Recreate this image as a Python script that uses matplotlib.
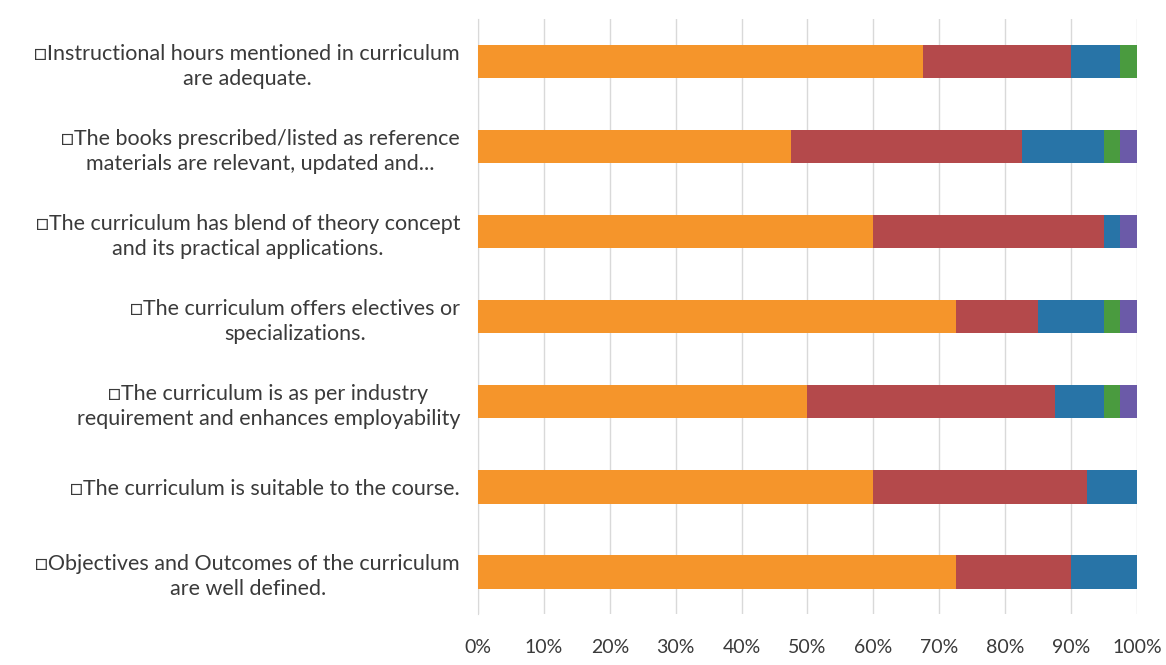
import numpy as np
import matplotlib
matplotlib.use("Agg")
import matplotlib.pyplot as plt

# -------------------------------
# Curriculum feedback, share of responses per statement (top to bottom)
# -------------------------------

statements = [
    "\u25a1Instructional hours mentioned in curriculum\nare adequate.",
    "\u25a1The books prescribed/listed as reference\nmaterials are relevant, updated and...",
    "\u25a1The curriculum has blend of theory concept\nand its practical applications.",
    "\u25a1The curriculum offers electives or\nspecializations.",
    "\u25a1The curriculum is as per industry\nrequirement and enhances employability",
    "\u25a1The curriculum is suitable to the course.",
    "\u25a1Objectives and Outcomes of the curriculum\nare well defined.",
]

strongly_agree    = [67.5, 47.5, 60.0, 72.5, 50.0, 60.0, 72.5]
agree             = [22.5, 35.0, 35.0, 12.5, 37.5, 32.5, 17.5]
neutral           = [7.5, 12.5, 2.5, 10.0, 7.5, 7.5, 10.0]
disagree          = [2.5, 2.5, 0.0, 2.5, 2.5, 0.0, 0.0]
strongly_disagree = [0.0, 2.5, 2.5, 2.5, 2.5, 0.0, 0.0]

series = [strongly_agree, agree, neutral, disagree, strongly_disagree]
colors = ["#F5952B", "#B4494B", "#2874A7", "#4A9B3F", "#6B5AA8"]

tick_values = np.arange(0, 101, 10)

plt.rcParams["font.family"] = ["Lato", "DejaVu Sans"]

fig = plt.figure(figsize=(11.66, 6.65), dpi=100)
ax = fig.add_axes([0.41, 0.076, 0.565, 0.895])

y = np.arange(len(statements))
left = np.zeros(len(statements))
for values, color in zip(series, colors):
    values = np.array(values)
    ax.barh(y, values, left=left, height=0.39, color=color, zorder=3)
    left += values

ax.set_xlim(0, 100)
ax.set_ylim(len(statements) - 0.5, -0.5)
ax.set_xticks(tick_values)
ax.set_xticklabels([f"{v}%" for v in tick_values], fontsize=14, color="#3a3a3a")
ax.set_yticks(y)
ax.set_yticklabels(statements, fontsize=15.5, color="#3a3a3a",
                   multialignment="center", linespacing=1.3)
ax.tick_params(axis="both", length=0)
ax.tick_params(axis="x", pad=18)
ax.tick_params(axis="y", pad=13)

ax.grid(axis="x", color="#d9d9d9", linewidth=1, zorder=0)
for side in ["top", "right", "bottom"]:
    ax.spines[side].set_visible(False)
ax.spines["left"].set_color("#d9d9d9")

fig.savefig("out.png", dpi=100, facecolor="white")
